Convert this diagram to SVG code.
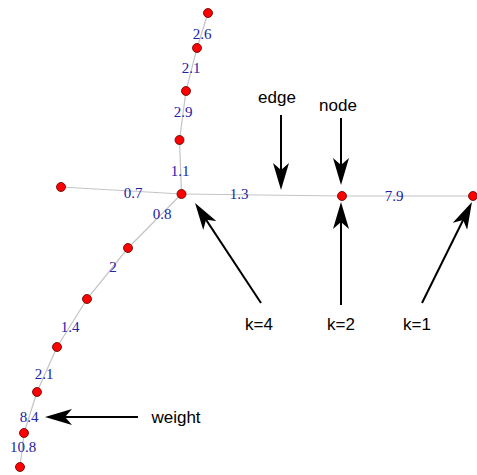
<svg xmlns="http://www.w3.org/2000/svg" width="477" height="475" viewBox="0 0 477 475">
<style>
.e{stroke:#c4c4c4;stroke-width:1.2;fill:none}
.n{fill:#ff0000;stroke:#5a0000;stroke-width:0.8}
.w{font-family:"Liberation Serif",serif;font-size:15px;fill:#2222a8;text-anchor:middle}
.t{font-family:"Liberation Sans",Arial,sans-serif;font-size:17px;fill:#000;text-anchor:middle}
.a{stroke:#000;stroke-width:2;fill:none;marker-end:url(#ah)}
</style>
<defs>
<marker id="ah" viewBox="0 -8 27 16" markerWidth="27" markerHeight="16" refX="14" refY="0" orient="auto" markerUnits="userSpaceOnUse">
<path d="M0,-8 L27,0 L0,8 L7,0 Z" fill="#000"/>
</marker>
</defs>
<rect width="477" height="475" fill="#fff"/>
<g id="edges">
<polyline class="e" points="208,13 197,48 186,91 179.5,140 181.5,194"/>
<line class="e" x1="61" y1="187" x2="181.5" y2="194"/>
<polyline class="e" points="181.5,194 342,196 473,196"/>
<polyline class="e" points="181.5,194 128,248 87,299 57,347 37,392 24,433 20,467"/>
</g>
<g id="edge-labels">
<text class="w" x="202" y="39">2.6</text>
<text class="w" x="191" y="73">2.1</text>
<text class="w" x="183" y="117">2.9</text>
<text class="w" x="180" y="176">1.1</text>
<text class="w" x="239" y="199">1.3</text>
<text class="w" x="133" y="198">0.7</text>
<text class="w" x="162" y="219">0.8</text>
<text class="w" x="394" y="201">7.9</text>
<text class="w" x="113" y="272">2</text>
<text class="w" x="70" y="332">1.4</text>
<text class="w" x="44" y="379">2.1</text>
<text class="w" x="29" y="422">8.4</text>
<text class="w" x="23" y="452">10.8</text>
</g>
<g id="nodes">
<circle id="n1" class="n" cx="208" cy="13" r="4.5"/>
<circle id="n2" class="n" cx="197" cy="48" r="4.5"/>
<circle id="n3" class="n" cx="186" cy="91" r="4.5"/>
<circle id="n4" class="n" cx="179.5" cy="140" r="4.5"/>
<circle id="n5" class="n" cx="181.5" cy="194" r="4.5"/>
<circle id="n6" class="n" cx="61" cy="187" r="4.5"/>
<circle id="n7" class="n" cx="342" cy="196" r="4.5"/>
<circle id="n8" class="n" cx="473" cy="196" r="4.5"/>
<circle id="n9" class="n" cx="128" cy="248" r="4.5"/>
<circle id="n10" class="n" cx="87" cy="299" r="4.5"/>
<circle id="n11" class="n" cx="57" cy="347" r="4.5"/>
<circle id="n12" class="n" cx="37" cy="392" r="4.5"/>
<circle id="n13" class="n" cx="24" cy="433" r="4.5"/>
<circle id="n14" class="n" cx="20" cy="467" r="4.5"/>
</g>
<g id="annotations">
<line class="a" x1="281" y1="115" x2="281" y2="177"/>
<line class="a" x1="341" y1="118" x2="341" y2="172"/>
<line class="a" x1="261" y1="303" x2="202.2" y2="213.9"/>
<line class="a" x1="341" y1="305" x2="341" y2="215"/>
<line class="a" x1="422" y1="303" x2="466.2" y2="213.7"/>
<line class="a" x1="138" y1="417" x2="58" y2="417"/>
<text class="t" x="277" y="103">edge</text>
<text class="t" x="338" y="111">node</text>
<text class="t" x="259" y="330">k=4</text>
<text class="t" x="341" y="330">k=2</text>
<text class="t" x="417" y="330">k=1</text>
<text class="t" x="176" y="423">weight</text>
</g>
</svg>
